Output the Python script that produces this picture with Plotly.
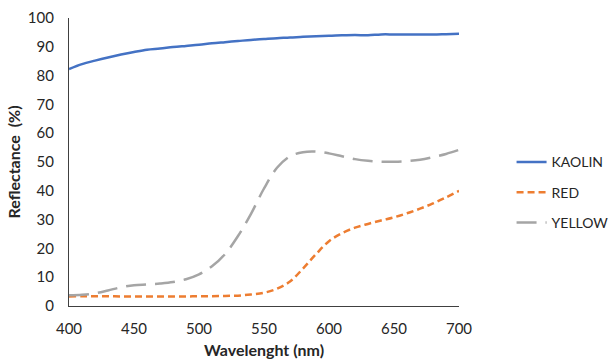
import plotly.graph_objects as go

wavelength = list(range(400, 701, 10))
kaolin = [82.3, 84.0, 85.2, 86.3, 87.3, 88.2, 89.0, 89.4, 89.9, 90.3, 90.7,
          91.2, 91.6, 92.0, 92.4, 92.7, 93.0, 93.2, 93.5, 93.7, 93.8,
          94.0, 94.1, 94.0, 94.3, 94.3, 94.3, 94.3, 94.3, 94.4, 94.5]
red = [3.3, 3.4, 3.4, 3.4, 3.3, 3.3, 3.3, 3.3, 3.3, 3.3, 3.4,
       3.4, 3.5, 3.6, 4.0, 4.6, 6.0, 8.5, 13.0, 18.0, 22.5,
       25.3, 27.2, 28.5, 29.7, 30.8, 32.2, 33.8, 35.6, 37.7, 40.0]
yellow = [3.7, 3.9, 4.4, 5.4, 6.5, 7.2, 7.5, 7.8, 8.3, 9.3, 11.0,
          13.8, 18.0, 24.3, 32.0, 40.8, 48.0, 52.0, 53.4, 53.6, 53.0,
          52.0, 51.0, 50.4, 50.1, 50.1, 50.3, 50.8, 51.7, 52.8, 54.2]

x_ticks = [400, 450, 500, 550, 600, 650, 700]
y_ticks = [0, 10, 20, 30, 40, 50, 60, 70, 80, 90, 100]

FONT = "Lato"
fig = go.Figure()
fig.add_trace(go.Scatter(x=wavelength, y=kaolin, name="KAOLIN", mode="lines",
                         line=dict(color="#4472C4", width=2.5, shape="spline"),
                         legendgroup="a"))
fig.add_trace(go.Scatter(x=wavelength, y=red, name="RED", mode="lines",
                         line=dict(color="#ED7D31", width=2.5, shape="spline", dash="7px,4px"),
                         legendgroup="b"))
fig.add_trace(go.Scatter(x=wavelength, y=yellow, name="YELLOW", mode="lines",
                         line=dict(color="#A5A5A5", width=2.5, shape="spline", dash="20px,9px"),
                         legendgroup="c"))

fig.update_layout(
    width=609, height=363,
    margin=dict(l=69, r=150, t=18, b=57, autoexpand=False),
    paper_bgcolor="white", plot_bgcolor="white",
    font=dict(family=FONT, size=15, color="#262626"),
    showlegend=True,
    legend=dict(xref="container", yref="container", x=0.840, y=0.470,
                xanchor="left", yanchor="middle",
                font=dict(size=14, color="#262626"), tracegroupgap=9,
                bgcolor="rgba(0,0,0,0)"),
    xaxis=dict(range=[400, 700], tickvals=x_ticks, showgrid=False, zeroline=False,
               showline=True, linecolor="#404040", linewidth=1.2,
               ticks="outside", ticklen=9, tickcolor="rgba(0,0,0,0)", automargin=False,
               title=dict(text="<b>Wavelenght (nm)</b>", font=dict(size=16), standoff=8)),
    yaxis=dict(range=[0, 100], tickvals=y_ticks, showgrid=False, zeroline=False,
               showline=True, linecolor="#404040", linewidth=1.2,
               ticks="outside", ticklen=11, tickcolor="rgba(0,0,0,0)", automargin=False,
               title=dict(text="<b>Reflectance  (%)</b>", font=dict(size=16), standoff=3)),
)

fig.write_html("out.html", config={"displayModeBar": False},
               post_script="document.body.style.margin='0';document.body.style.overflow='hidden';")
